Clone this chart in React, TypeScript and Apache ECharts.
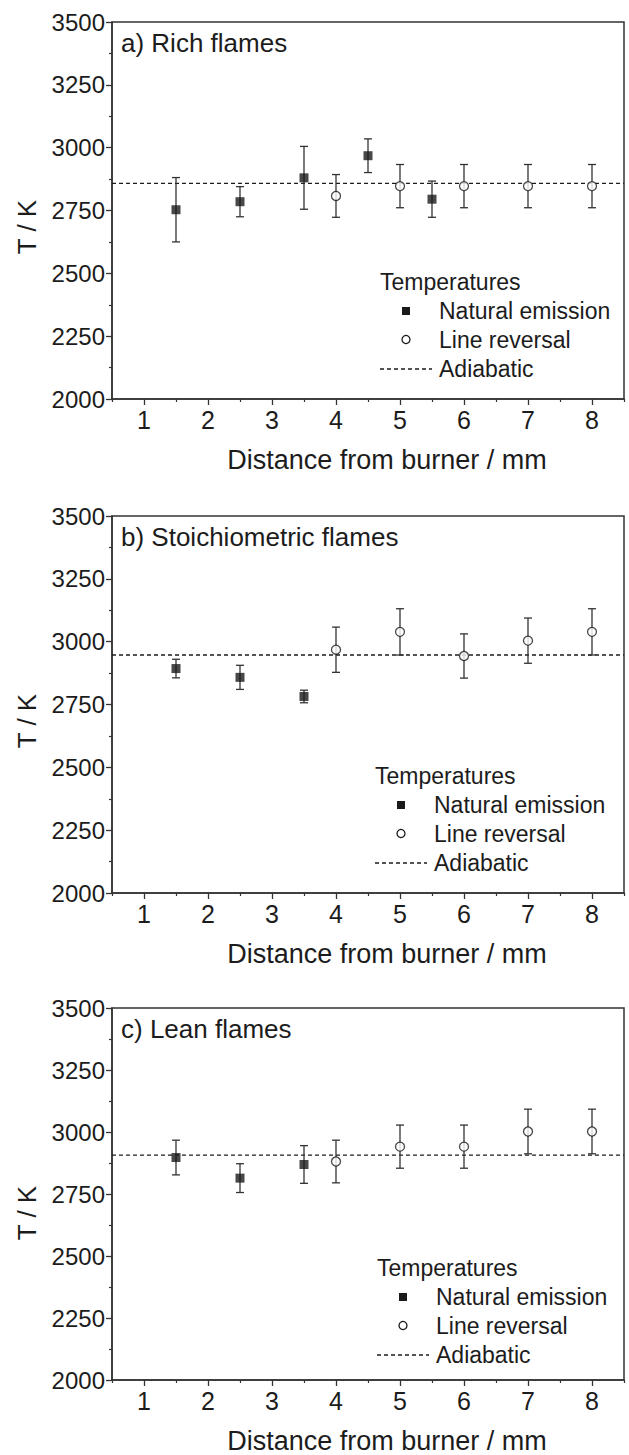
import React, { useEffect, useRef } from 'react';
import * as echarts from 'echarts';

// ---- axis ticks ----
const X_MAJOR = [1, 2, 3, 4, 5, 6, 7, 8];
const X_MINOR = [0.5, 1.5, 2.5, 3.5, 4.5, 5.5, 6.5, 7.5, 8.5];
const Y_MIN = 2000;
const Y_MAX = 3500;
const Y_STEP = 250;

// ---- labels ----
const panelLabels = ['a) Rich flames', 'b) Stoichiometric flames', 'c) Lean flames'];
const legendTitle = 'Temperatures';
const seriesNames = ['Natural emission', 'Line reversal', 'Adiabatic'];
const xTitle = 'Distance from burner / mm';
const yTitle = 'T / K';

// ---- a) rich ----
const richNatX = [1.5, 2.5, 3.5, 4.5, 5.5];
const richNatT = [2753, 2785, 2880, 2968, 2795];
const richNatErr = [128, 60, 125, 67, 72];
const richRevX = [4, 5, 6, 7, 8];
const richRevT = [2808, 2847, 2847, 2847, 2847];
const richRevErr = [85, 86, 86, 86, 86];
const richAdiabatic = 2858;

// ---- b) stoichiometric ----
const stoiNatX = [1.5, 2.5, 3.5];
const stoiNatT = [2893, 2858, 2782];
const stoiNatErr = [37, 48, 25];
const stoiRevX = [4, 5, 6, 7, 8];
const stoiRevT = [2968, 3039, 2943, 3004, 3039];
const stoiRevErr = [90, 92, 88, 90, 92];
const stoiAdiabatic = 2947;

// ---- c) lean ----
const leanNatX = [1.5, 2.5, 3.5];
const leanNatT = [2897, 2814, 2869];
const leanNatErr = [70, 58, 76];
const leanRevX = [4, 5, 6, 7, 8];
const leanRevT = [2881, 2941, 2941, 3002, 3002];
const leanRevErr = [86, 87, 87, 90, 90];
const leanAdiabatic = 2907;

const panels = [
  { natX: richNatX, natT: richNatT, natErr: richNatErr, revX: richRevX, revT: richRevT, revErr: richRevErr, ad: richAdiabatic },
  { natX: stoiNatX, natT: stoiNatT, natErr: stoiNatErr, revX: stoiRevX, revT: stoiRevT, revErr: stoiRevErr, ad: stoiAdiabatic },
  { natX: leanNatX, natT: leanNatT, natErr: leanNatErr, revX: leanRevX, revT: leanRevT, revErr: leanRevErr, ad: leanAdiabatic },
];

// ---- layout ----
const FONT = '"Liberation Sans", Arial, Helvetica, sans-serif';
const INK = '#1c1c1c';
const GRID_LEFT = 112;
const GRID_WIDTH = 512;
const GRID_TOPS = [22, 516, 1008];
const GRID_HEIGHTS = [377, 377, 376];
const LEGEND_LEFTS = [380, 375, 377];

const errRender = (params: any, api: any) => {
  const x = api.value(0);
  const lo = api.value(1);
  const hi = api.value(2);
  const top = api.coord([x, hi]);
  const bot = api.coord([x, lo]);
  const cap = 4;
  const style = { stroke: '#333', lineWidth: 1.3 };
  return {
    type: 'group',
    children: [
      { type: 'line', shape: { x1: top[0], y1: top[1], x2: bot[0], y2: bot[1] }, style },
      { type: 'line', shape: { x1: top[0] - cap, y1: top[1], x2: top[0] + cap, y2: top[1] }, style },
      { type: 'line', shape: { x1: bot[0] - cap, y1: bot[1], x2: bot[0] + cap, y2: bot[1] }, style },
    ],
  };
};

function buildOption() {
  const grid: any[] = [];
  const xAxis: any[] = [];
  const yAxis: any[] = [];
  const series: any[] = [];
  const title: any[] = [];
  const graphic: any[] = [];

  panels.forEach((p, i) => {
    const top = GRID_TOPS[i];
    const h = GRID_HEIGHTS[i];
    grid.push({ left: GRID_LEFT, top, width: GRID_WIDTH, height: h, show: true, borderColor: '#333', borderWidth: 1.5, backgroundColor: 'transparent' });

    // main x axis (data)
    xAxis.push({
      type: 'value', gridIndex: i, min: 0.5, max: 8.5, position: 'bottom',
      splitLine: { show: false },
      axisLine: { show: true, lineStyle: { color: '#333', width: 1.5 } },
      axisTick: { show: true, customValues: X_MAJOR, length: 6, inside: false, lineStyle: { color: '#333', width: 1.3 } },
      axisLabel: { customValues: X_MAJOR, color: INK, fontFamily: FONT, fontSize: 25, margin: 8 },
      name: xTitle, nameLocation: 'middle', nameGap: 47,
      nameTextStyle: { color: INK, fontFamily: FONT, fontSize: 27, padding: [0, 0, 0, 38] },
    });
    // minor x ticks overlay
    xAxis.push({
      type: 'value', gridIndex: i, min: 0.5, max: 8.5, position: 'bottom',
      splitLine: { show: false },
      axisLine: { show: false },
      axisTick: { show: true, customValues: X_MINOR, length: 3, lineStyle: { color: '#333', width: 1.2 } },
      axisLabel: { show: false },
    });
    yAxis.push({
      type: 'value', gridIndex: i, min: Y_MIN, max: Y_MAX, interval: Y_STEP,
      splitLine: { show: false },
      axisLine: { show: true, lineStyle: { color: '#333', width: 1.5 } },
      axisTick: { show: true, length: 6, lineStyle: { color: '#333', width: 1.3 } },
      minorTick: { show: true, splitNumber: 2, length: 3, lineStyle: { color: '#333', width: 1.2 } },
      axisLabel: { color: INK, fontFamily: FONT, fontSize: 24, margin: 7, formatter: (v: number) => String(v) },
    });

    const xi = i * 2;
    series.push({
      name: seriesNames[2], type: 'line', xAxisIndex: xi, yAxisIndex: i,
      data: [[0.5, p.ad], [8.5, p.ad]], symbol: 'none', z: 1,
      lineStyle: { color: INK, width: 1.3, type: [4, 3] },
    });
    series.push({
      type: 'custom', xAxisIndex: xi, yAxisIndex: i, z: 2,
      renderItem: errRender, encode: { x: 0, y: [1, 2] },
      data: p.natX.map((x, k) => [x, p.natT[k] - p.natErr[k], p.natT[k] + p.natErr[k]]),
    });
    series.push({
      type: 'custom', xAxisIndex: xi, yAxisIndex: i, z: 2,
      renderItem: errRender, encode: { x: 0, y: [1, 2] },
      data: p.revX.map((x, k) => [x, p.revT[k] - p.revErr[k], p.revT[k] + p.revErr[k]]),
    });
    series.push({
      name: seriesNames[0], type: 'scatter', xAxisIndex: xi, yAxisIndex: i, z: 3,
      symbol: 'rect', symbolSize: 9, itemStyle: { color: '#1a1a1a' },
      data: p.natX.map((x, k) => [x, p.natT[k]]),
    });
    series.push({
      name: seriesNames[1], type: 'scatter', xAxisIndex: xi, yAxisIndex: i, z: 3,
      symbol: 'circle', symbolSize: 9, itemStyle: { color: '#fff', borderColor: '#1a1a1a', borderWidth: 1.3 },
      data: p.revX.map((x, k) => [x, p.revT[k]]),
    });

    title.push({
      text: panelLabels[i], left: 121, top: top + 8, padding: 0,
      textStyle: { color: INK, fontFamily: FONT, fontSize: 26, fontWeight: 'normal' },
    });

    // y axis title
    graphic.push({
      type: 'text', x: 27, y: top + 205, rotation: Math.PI / 2,
      style: { text: yTitle, fill: INK, font: `26px ${FONT}`, align: 'center', verticalAlign: 'middle' },
    });

    // legend
    const lx = LEGEND_LEFTS[i];
    const ly = top + 260;
    const markX = lx + 26;
    const textX = lx + 59;
    graphic.push({
      type: 'group', children: [
        { type: 'text', x: lx, y: ly, style: { text: legendTitle, fill: INK, font: `23px ${FONT}`, align: 'left', verticalAlign: 'middle' } },
        { type: 'rect', shape: { x: markX - 4, y: ly + 29 - 4, width: 8, height: 8 }, style: { fill: '#1a1a1a' } },
        { type: 'text', x: textX, y: ly + 29, style: { text: seriesNames[0], fill: INK, font: `23px ${FONT}`, align: 'left', verticalAlign: 'middle' } },
        { type: 'circle', shape: { cx: markX, cy: ly + 57.5, r: 4 }, style: { fill: '#fff', stroke: '#1a1a1a', lineWidth: 1.3 } },
        { type: 'text', x: textX, y: ly + 57.5, style: { text: seriesNames[1], fill: INK, font: `23px ${FONT}`, align: 'left', verticalAlign: 'middle' } },
        { type: 'line', shape: { x1: lx, y1: ly + 87, x2: lx + 52, y2: ly + 87 }, style: { stroke: INK, lineWidth: 1.3, lineDash: [4, 3] } },
        { type: 'text', x: textX, y: ly + 87, style: { text: seriesNames[2], fill: INK, font: `23px ${FONT}`, align: 'left', verticalAlign: 'middle' } },
      ],
    });
  });

  return {
    animation: false,
    backgroundColor: '#fff',
    textStyle: { fontFamily: FONT },
    grid, xAxis, yAxis, series, title, graphic,
  };
}

export default function App() {
  const ref = useRef<HTMLDivElement>(null);
  useEffect(() => {
    if (!ref.current) return;
    const chart = echarts.init(ref.current, undefined, { renderer: 'svg' });
    chart.setOption(buildOption() as any);
    return () => chart.dispose();
  }, []);
  return <div ref={ref} style={{ position: 'absolute', left: 0, top: 0, width: 629, height: 1455, background: '#fff' }} />;
}
